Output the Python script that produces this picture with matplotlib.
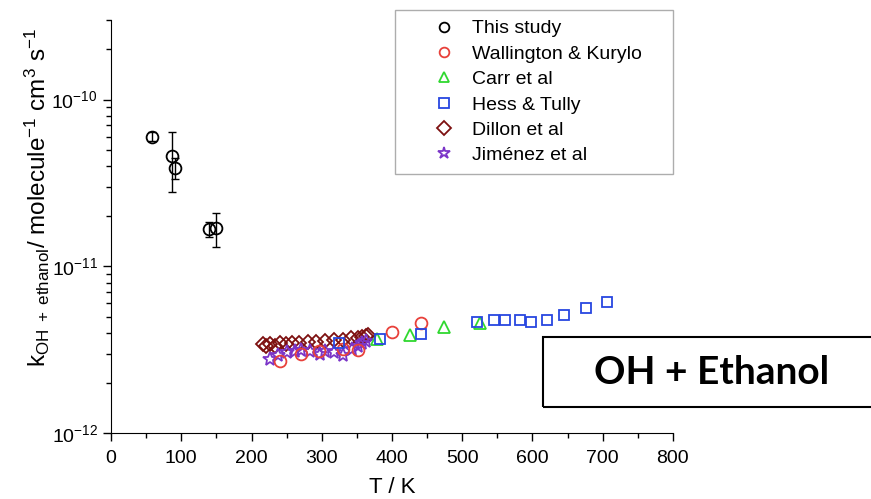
import matplotlib
matplotlib.use("Agg")
import matplotlib.pyplot as plt
from matplotlib.lines import Line2D
from matplotlib.patches import Rectangle

plt.rcParams['font.family'] = ['Liberation Sans', 'DejaVu Sans']
plt.rcParams['mathtext.fontset'] = 'custom'
plt.rcParams['mathtext.rm'] = 'Liberation Sans'
plt.rcParams['mathtext.it'] = 'Liberation Sans:italic'
plt.rcParams['mathtext.default'] = 'regular'

# This study (with error bars)
this_T = [58, 87, 91, 140, 150]
this_k = [6.0e-11, 4.6e-11, 3.9e-11, 1.67e-11, 1.7e-11]
this_err = [0.35e-11, 1.8e-11, 0.55e-11, 0.18e-11, 0.4e-11]

# Wallington & Kurylo
wk_T = [240, 270, 296, 330, 351, 400, 442]
wk_k = [2.7e-12, 3.0e-12, 3.1e-12, 3.2e-12, 3.15e-12, 4.05e-12, 4.6e-12]

# Carr et al
carr_T = [379, 425, 474, 526]
carr_k = [3.65e-12, 3.9e-12, 4.35e-12, 4.6e-12]

# Hess & Tully
ht_T = [324, 383, 441, 521, 545, 561, 582, 598, 621, 645, 677, 706]
ht_k = [3.45e-12, 3.65e-12, 3.95e-12, 4.65e-12, 4.8e-12, 4.8e-12,
        4.8e-12, 4.65e-12, 4.8e-12, 5.1e-12, 5.65e-12, 6.1e-12]

# Dillon et al
dil_T = [216, 221, 227, 233, 240, 249, 258, 268, 280, 292, 305, 318,
         330, 342, 352, 358, 363, 366]
dil_k = [3.4e-12, 3.35e-12, 3.4e-12, 3.35e-12, 3.45e-12, 3.4e-12, 3.45e-12,
         3.45e-12, 3.5e-12, 3.5e-12, 3.55e-12, 3.6e-12, 3.6e-12, 3.7e-12,
         3.7e-12, 3.75e-12, 3.8e-12, 3.85e-12]

# Jiménez et al
jim_T = [227, 238, 251, 262, 270, 283, 298, 305, 317, 331, 343, 351, 358, 363]
jim_k = [2.8e-12, 2.95e-12, 3.05e-12, 3.1e-12, 3.15e-12, 3.1e-12, 3.0e-12,
         3.1e-12, 3.05e-12, 2.95e-12, 3.2e-12, 3.35e-12, 3.45e-12, 3.55e-12]

fig = plt.figure(figsize=(8.71, 4.99), dpi=100)
ax = fig.add_axes([0.1275, 0.132, 0.645, 0.828])

ms = 8.5
mew = 1.3
ax.errorbar(this_T, this_k, yerr=this_err, fmt='none', ecolor='black',
            elinewidth=1.0, capsize=3, capthick=1.0, zorder=2)
ax.plot(this_T, this_k, 'o', mfc='none', mec='black', ms=ms, mew=mew,
        zorder=3)
ax.plot(dil_T, dil_k, 'D', mfc='none', mec='#7d1010', ms=7.5, mew=mew)
ax.plot(jim_T, jim_k, '*', mfc='none', mec='#7b35c8', ms=10, mew=mew)
ax.plot(wk_T, wk_k, 'o', mfc='none', mec='#e8403a', ms=ms, mew=mew)
ax.plot(carr_T, carr_k, '^', mfc='none', mec='#2fd82f', ms=ms, mew=mew)
ax.plot(ht_T, ht_k, 's', mfc='none', mec='#2846e0', ms=7.5, mew=mew)

ax.set_yscale('log')
ax.set_xlim(0, 800)
ax.set_ylim(1e-12, 3e-10)
ax.set_xticks(range(0, 801, 100))
ax.set_xticks(range(50, 800, 100), minor=True)
ax.spines['top'].set_visible(False)
ax.spines['right'].set_visible(False)
ax.tick_params(which='major', direction='out', length=6, width=1,
               labelsize=14)
ax.tick_params(axis='x', which='major', pad=6)
ax.tick_params(which='minor', direction='out', length=3.5, width=1)
ax.set_xlabel('T / K', fontsize=16, labelpad=7)
fig.text(37 / 871, 1 - 198 / 499,
         r'k$_{OH\ +\ ethanol}$/ molecule$^{-1}$ cm$^{3}$ s$^{-1}$',
         fontsize=17.5, rotation=90, ha='center', va='center')

handles = [
    Line2D([], [], ls='none', marker='o', mfc='none', mec='black', ms=7, mew=mew),
    Line2D([], [], ls='none', marker='o', mfc='none', mec='#e8403a', ms=7, mew=mew),
    Line2D([], [], ls='none', marker='^', mfc='none', mec='#2fd82f', ms=7, mew=mew),
    Line2D([], [], ls='none', marker='s', mfc='none', mec='#2846e0', ms=6.5, mew=mew),
    Line2D([], [], ls='none', marker='D', mfc='none', mec='#7d1010', ms=7, mew=mew),
    Line2D([], [], ls='none', marker='*', mfc='none', mec='#7b35c8', ms=9, mew=mew),
]
labels = ['This study', 'Wallington & Kurylo', 'Carr et al', 'Hess & Tully',
          'Dillon et al', 'Jiménez et al']
leg = fig.legend(handles, labels, loc='upper left',
                 bbox_to_anchor=(395 / 871, 1 - 10 / 499, 278 / 871, 0.0),
                 mode='expand',
                 fontsize=14, frameon=True, fancybox=False,
                 edgecolor='#999999', borderpad=0.5, labelspacing=0.4,
                 handlelength=4.0, handletextpad=-0.55, borderaxespad=0)
leg.get_frame().set_linewidth(1.0)

# title box
fig.patches.append(Rectangle((543 / 871, 1 - 407 / 499), 340 / 871, 70 / 499,
                             transform=fig.transFigure, fill=False,
                             edgecolor='black', linewidth=1.5))
fig.text(712 / 871, 1 - 373 / 499, 'OH + Ethanol', fontsize=28,
         fontfamily='Lato', fontweight='bold', ha='center', va='center')

fig.savefig('out.png', dpi=100)
